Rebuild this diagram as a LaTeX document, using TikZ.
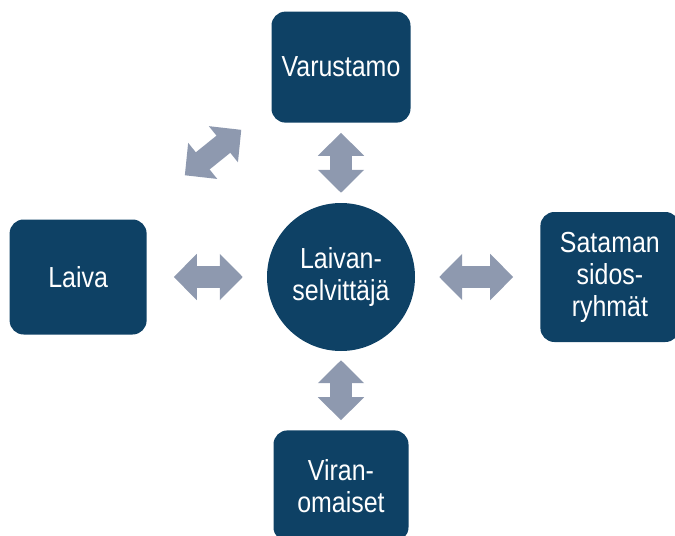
\documentclass[tikz,border=0pt]{standalone}
\usepackage{fontspec}
\setmainfont{Liberation Sans}[FakeStretch=0.86]
\usetikzlibrary{
  arrows.meta,
  positioning
}
\definecolor{HarborNavy}{HTML}{0E4165}
\definecolor{LinkGray}{HTML}{8E99AF}
\tikzset{
  orgbox/.style={
    fill=HarborNavy,
    text=white,
    rounded corners=14bp,
    minimum width=139bp,
    minimum height=111bp,
    align=center,
    inner sep=2bp,
    font=\fontsize{29bp}{32bp}\selectfont
  },
  hubcircle/.style={orgbox,circle,rounded corners=0pt,minimum size=148bp},
  biarrow/.style={
    {Triangle[length=23bp,width=45bp]}-{Triangle[length=23bp,width=45bp]},
    line width=22bp,
    draw=LinkGray
  }
}

\begin{document}
\begin{tikzpicture}
  \useasboundingbox (0,0) rectangle (675bp,-536bp);
  \node[hubcircle] (hub) at (341bp,-277bp) {Laivan-\\selvittäjä};
  \node[orgbox, above=80bp of hub] (varustamo) {Varustamo};
  \node[orgbox, left=120bp of hub, minimum width=137bp, minimum height=115bp] (laiva) {Laiva};
  \node[orgbox, right=125bp of hub, minimum height=130bp] (satama) {Sataman\\sidos-\\ryhmät};
  \node[orgbox, below=79bp of hub, minimum width=135bp] (viranomaiset) {Viran-\\omaiset};

  \draw[biarrow, shorten <=10bp, shorten >=10bp] (varustamo) -- (hub);
  \draw[biarrow, shorten <=27bp, shorten >=24bp] (laiva) -- (hub);
  \draw[biarrow, shorten <=24bp, shorten >=27bp] (hub) -- (satama);
  \draw[biarrow, shorten <=9bp, shorten >=10bp] (hub) -- (viranomaiset);
  \draw[biarrow] ([shift={(38bp,44bp)}]laiva.north east) -- ([shift={(-30bp,-7bp)}]varustamo.south west);
\end{tikzpicture}
\end{document}
